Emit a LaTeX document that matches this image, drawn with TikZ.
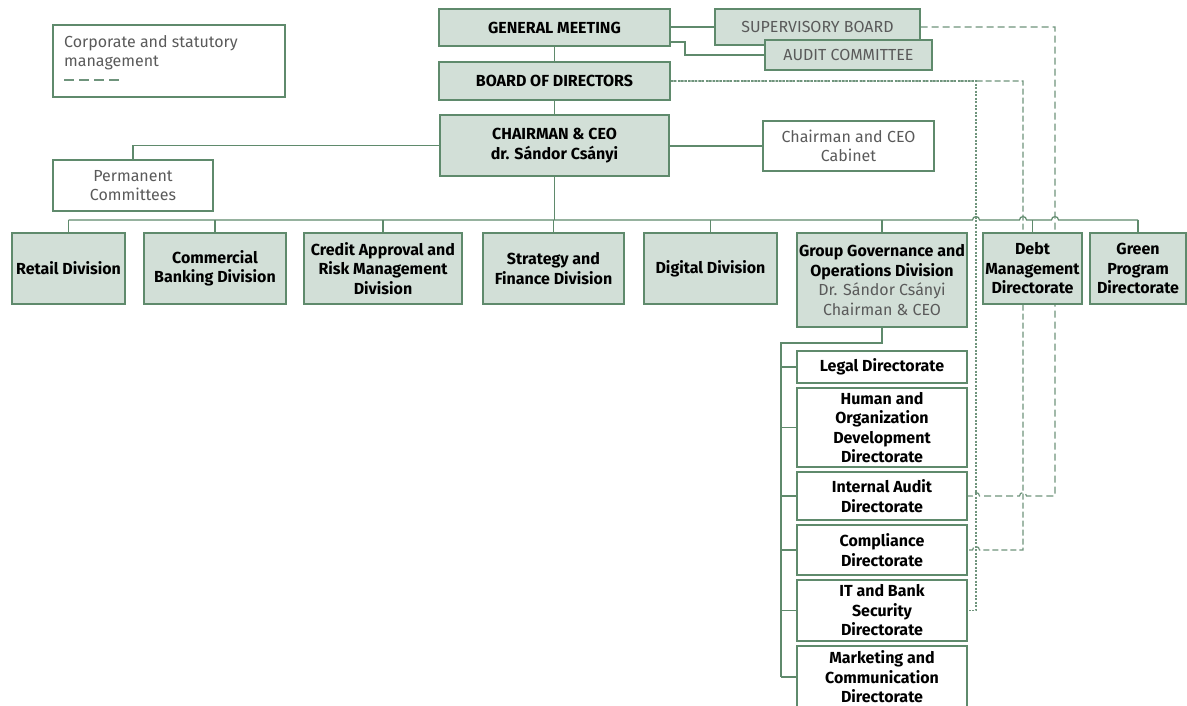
\documentclass[tikz,border=0pt]{standalone}
\usepackage{fontspec}
\setmainfont{Fira Sans}
\usetikzlibrary{calc}
\pgfdeclarelayer{background}
\pgfsetlayers{background,main}

\definecolor{linegreen}{HTML}{5F8A6C}
\definecolor{boxfill}{HTML}{D2DFD7}
\definecolor{dashgreen}{HTML}{6F947C}
\definecolor{greytext}{HTML}{5A5A5A}
\newcommand{\orgsize}{\fontsize{16}{19.5}\selectfont}

\tikzset{
	unitbox/.style={draw=linegreen, fill=boxfill, line width=1.2pt, align=center, inner sep=1pt, font=\orgsize\bfseries},
	plainbox/.style={draw=linegreen, fill=white, line width=1.2pt, align=center, inner sep=1pt, text=greytext, font=\orgsize},
	dirbox/.style={draw=linegreen, fill=white, line width=1.2pt, align=center, inner sep=1pt, font=\orgsize\bfseries},
	conn/.style={draw=linegreen, line width=1.2pt},
	longdash/.style={draw=dashgreen, line width=1.2pt, dash pattern=on 7pt off 4pt},
	middash/.style={draw=dashgreen, line width=1.2pt, dash pattern=on 6pt off 3pt},
	finedash/.style={draw=dashgreen, line width=1.2pt, dash pattern=on 2pt off 1.5pt}
}

\begin{document}
\begin{tikzpicture}[x=1pt, y=-1pt]
			%%%%% START %%%%%
			\useasboundingbox (0,0) rectangle (1187,706);
			
			% legend
			\node[draw=linegreen, line width=1.2pt, minimum width=232pt, minimum height=72pt] (legend) at (169,61) {};
			\node[anchor=north west, inner sep=0pt, align=left, text=greytext, font=\orgsize] (legendtxt) at (64,35) {Corporate and statutory\\management};
			\draw[longdash, dash pattern=on 10pt off 5pt] (64,80) -- (122,80);
			
			% top of the group
			\node[unitbox, minimum width=231pt, minimum height=37pt] (gm) at (554.5,27.5) {GENERAL MEETING};
			\node[unitbox, font=\orgsize, text=greytext, minimum width=205pt, minimum height=36pt] (sb) at (817.5,27) {SUPERVISORY BOARD};
			\node[unitbox, font=\orgsize, text=greytext, minimum width=167pt, minimum height=30pt] (ac) at (848.5,55) {AUDIT COMMITTEE};
			\node[unitbox, minimum width=231pt, minimum height=38pt] (bod) at (554.5,81) {BOARD OF DIRECTORS};
			\node[unitbox, minimum width=229pt, minimum height=61pt] (ceo) at (554.5,145.5) {CHAIRMAN \& CEO\\dr. Sándor Csányi};
			\node[plainbox, minimum width=171pt, minimum height=50pt] (cab) at (848.5,146) {Chairman and CEO\\Cabinet};
			\node[plainbox, minimum width=160pt, minimum height=51pt] (perm) at (133,185.5) {Permanent\\Committees};
			
			% divisions
			\node[unitbox, minimum width=113pt, minimum height=71pt] (retail) at (68.5,268.5) {Retail Division};
			\node[unitbox, minimum width=142pt, minimum height=71pt] (comm) at (215,268.5) {Commercial\\Banking Division};
			\node[unitbox, minimum width=158pt, minimum height=71pt] (credit) at (383,268.5) {Credit Approval and\\Risk Management\\Division};
			\node[unitbox, minimum width=141pt, minimum height=71pt] (strat) at (553.5,268.5) {Strategy and\\Finance Division};
			\node[unitbox, minimum width=133pt, minimum height=71pt] (digital) at (710.5,268.5) {Digital Division};
			\node[unitbox, minimum width=170pt, minimum height=94pt] (ggo) at (882,280) {Group Governance and\\Operations Division\\\textcolor{greytext}{\mdseries Dr. Sándor Csányi}\\\textcolor{greytext}{\mdseries Chairman \& CEO}};
			\node[unitbox, minimum width=99pt, minimum height=71pt] (debt) at (1032.5,268.5) {Debt\\Management\\Directorate};
			\node[unitbox, minimum width=96pt, minimum height=71pt] (green) at (1138,268.5) {Green\\Program\\Directorate};
			
			% directorates under group governance
			\node[dirbox, minimum width=170pt, minimum height=32pt] (legal) at (882,367) {Legal Directorate};
			\node[dirbox, minimum width=170pt, minimum height=79pt] (hod) at (882,427.5) {Human and\\Organization\\Development\\Directorate};
			\node[dirbox, minimum width=170pt, minimum height=48pt] (ia) at (882,496) {Internal Audit\\Directorate};
			\node[dirbox, minimum width=170pt, minimum height=50pt] (comp) at (882,550) {Compliance\\Directorate};
			\node[dirbox, minimum width=170pt, minimum height=61pt] (it) at (882,610.5) {IT and Bank\\Security\\Directorate};
			\node[dirbox, minimum width=170pt, minimum height=62pt] (mkt) at (882,677) {Marketing and\\Communication\\Directorate};
			
			\coordinate (bus) at (0,220);
			\coordinate (spine) at (781,0);
			
			\begin{pgfonlayer}{background}
			\fill[white] (0,0) rectangle (1187,706);
			% solid lines
			\draw[conn] (gm) -- (bod);
			\draw[conn] (bod) -- (ceo);
			\draw[conn] (gm.east |- sb.west) -- (sb.west);
			\draw[conn] (670,42) -- (685,42) -- (685,55) -- (ac.west);
			\draw[conn] (ceo.east |- cab.west) -- (cab.west);
			\draw[conn] (ceo.west) -- (perm.north |- ceo.west) -- (perm.north);
			\draw[conn] (ceo.south) -- (ceo.south |- bus);
			\draw[conn] (retail.north |- bus) -- (972.5,220) arc[start angle=180, end angle=0, radius=3.5pt]
				-- (1019.5,220) arc[start angle=180, end angle=0, radius=3.5pt]
				-- (1051.5,220) arc[start angle=180, end angle=0, radius=3.5pt] -- (green.north |- bus);
			\foreach \d in {retail,comm,credit,strat,digital,ggo,debt,green}
				\draw[conn] (\d.north) -- (\d.north |- bus);
			\draw[conn] (ggo.south) -- (882,343) -- (spine |- 0,343) -- (spine |- mkt.west);
			\foreach \d in {legal,hod,ia,comp,it,mkt}
				\draw[conn] (\d.west -| spine) -- (\d.west);
			
			% dashed lines
			\draw[longdash] (sb.east) -- (1055,27) -- (1055,496) -- (1026.5,496)
				arc[start angle=0, end angle=180, radius=3.5pt] -- (979.5,496)
				arc[start angle=0, end angle=180, radius=3.5pt] -- (ia.east);
			\draw[middash] (bod.east) -- (1023,81) -- (1023,550) -- (979.5,550)
				arc[start angle=0, end angle=180, radius=3.5pt] -- (comp.east);
			\draw[finedash] (bod.east) -- (976,81) -- (976,610.5) -- (it.east);
			\end{pgfonlayer}
			
			%%%%% END %%%%%
		\end{tikzpicture}
\end{document}
